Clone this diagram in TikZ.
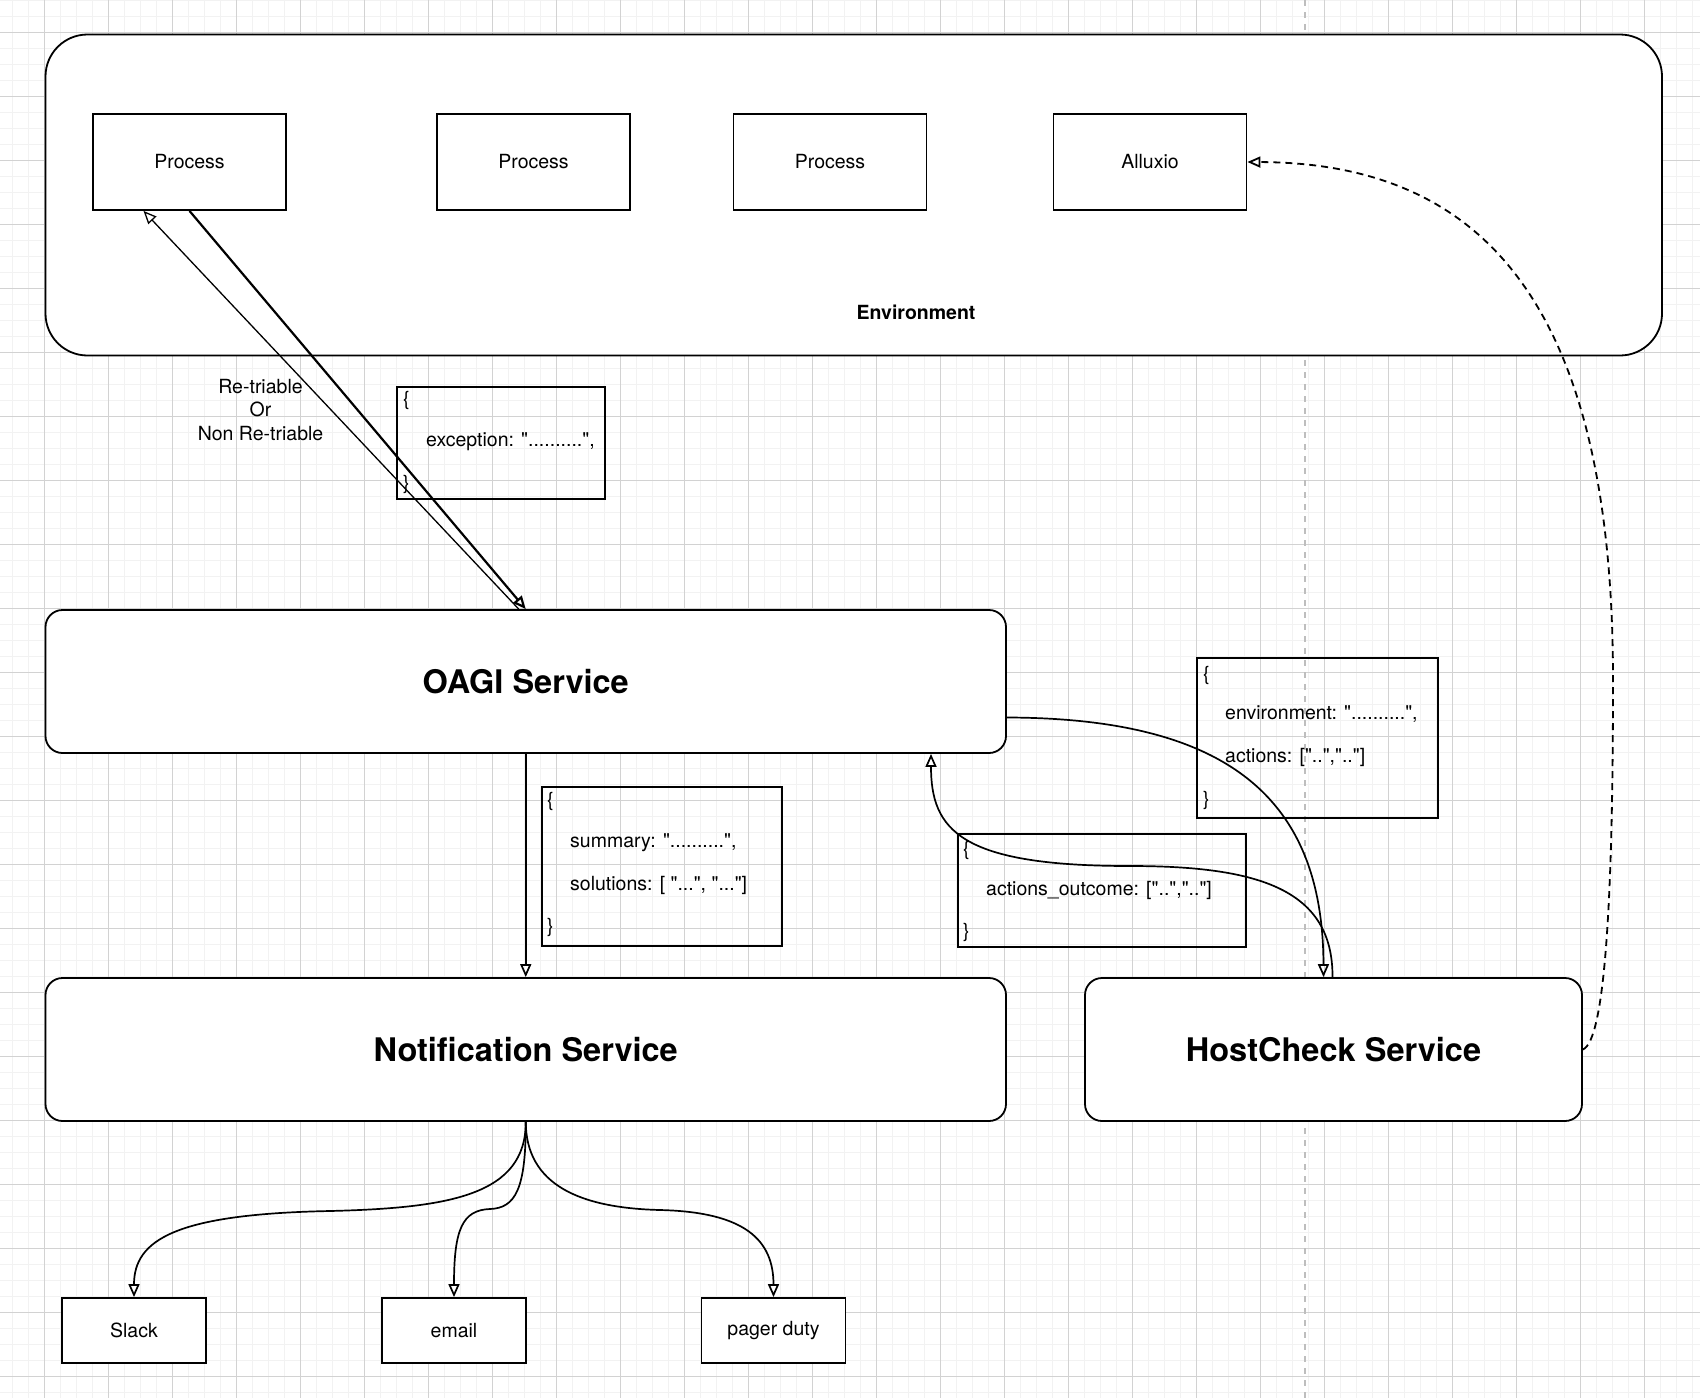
\documentclass[tikz,border=0pt]{standalone}
\usepackage{fontspec}
\setmainfont{TeX Gyre Heros}[Ligatures=TeXOff]
\usetikzlibrary{arrows.meta}

\definecolor{gridminor}{RGB}{242,242,242}
\definecolor{gridmajor}{RGB}{210,210,210}
\definecolor{pagebreak}{RGB}{190,190,190}

\begin{document}
\begin{tikzpicture}[
  x=1pt, y=-1pt,
  txt/.style={font=\fontsize{19.5}{23.5}\selectfont, inner sep=0pt},
  box/.style={draw, fill=white, line width=1.8pt, inner sep=0pt, txt},
  service/.style={box, rounded corners=17pt, minimum height=143pt,
    font=\fontsize{32.5}{38}\selectfont\bfseries},
  json/.style={draw, line width=1.6pt, inner sep=0pt},
  flow/.style={line width=1.7pt, -{Triangle[open, length=13pt, width=11pt]}},
  ping/.style={line width=1.8pt, dash pattern=on 7pt off 5pt,
    -{Triangle[open, length=13pt, width=11pt]}}
]
\useasboundingbox (0,0) rectangle (1700,1398);

% canvas
\foreach \x in {12.3,28.3,...,1700} \draw[gridminor, line width=1pt] (\x,0) -- (\x,1398);
\foreach \y in {0.3,16.3,...,1398} \draw[gridminor, line width=1pt] (0,\y) -- (1700,\y);
\foreach \x in {44.3,108.3,...,1700} \draw[gridmajor, line width=1pt] (\x,0) -- (\x,1398);
\foreach \y in {32.3,96.3,...,1398} \draw[gridmajor, line width=1pt] (0,\y) -- (1700,\y);
\draw[pagebreak, line width=1.2pt, dash pattern=on 6pt off 6pt] (1305,0) -- (1305,1398);

% environment
\node[box, rounded corners=42pt, minimum width=1616.5pt, minimum height=321pt] (env) at (853.75,195) {};
\node[txt, font=\fontsize{19.5}{23.5}\selectfont\bfseries] (envlabel) at (916,312) {Environment};
\foreach \name/\x/\label in {proc1/189.5/Process, proc2/533.5/Process, proc3/830/Process, alluxio/1150/Alluxio}
  \node[box, minimum width=193pt, minimum height=96pt] (\name) at (\x,162) {\label};

% services
\node[service, minimum width=960.5pt] (oagi) at (525.75,681.5) {OAGI Service};
\node[service, minimum width=960.5pt] (notif) at (525.75,1049.5) {Notification Service};
\node[service, minimum width=497pt] (host) at (1333.5,1049.5) {HostCheck Service};

% channels
\node[box, minimum width=144pt, minimum height=65pt] (slack) at (134,1330.5) {Slack};
\node[box, minimum width=144pt, minimum height=65pt] (email) at (454,1330.5) {email};
\node[box, minimum width=144pt, minimum height=65pt] (pager) at (773.5,1330.5) {pager duty};

% payloads
\node[json, minimum width=208pt, minimum height=112pt] (exc) at (501,443) {};
\node[txt, anchor=west] (excopen) at (403,400) {\{};
\node[txt, anchor=west] (excbody) at (426,442) {exception: "..........",};
\node[txt, anchor=west] (excclose) at (403,484) {\}};

\node[json, minimum width=240pt, minimum height=159pt] (summ) at (661.7,866.4) {};
\node[txt, anchor=west] (summopen) at (547,801) {\{};
\node[txt, anchor=west] (summbody) at (570,843) {summary: "..........",};
\node[txt, anchor=west] (summsol) at (570,885) {solutions: [ "...", "..."]};
\node[txt, anchor=west] (summclose) at (547,927) {\}};

\node[json, minimum width=241pt, minimum height=160pt] (envreq) at (1317.5,738) {};
\node[txt, anchor=west] (envreqopen) at (1203,675) {\{};
\node[txt, anchor=west] (envreqbody) at (1225,714) {environment: "..........",};
\node[txt, anchor=west] (envreqact) at (1225,757) {actions: ["..",".."]};
\node[txt, anchor=west] (envreqclose) at (1203,800) {\}};

\node[json, minimum width=288pt, minimum height=113pt] (outcome) at (1102,890.5) {};
\node[txt, anchor=west] (outcomeopen) at (963,850) {\{};
\node[txt, anchor=west] (outcomebody) at (986,890) {actions\_outcome: ["..",".."]};
\node[txt, anchor=west] (outcomeclose) at (963,932) {\}};

\node[txt, align=center] (retry) at (260.5,410) {Re-triable\\Or\\Non Re-triable};

% connectors
\draw[flow, line width=2.2pt] (proc1.south) -- (oagi.north);
\draw[flow, line width=1.3pt] ([xshift=-7pt]oagi.north) -- ([xshift=-46pt]proc1.south);
\draw[flow] (oagi.south) -- (notif.north);
\draw[flow] ([yshift=-36pt]oagi.east) .. controls (1230,718) and (1323,800) .. ([xshift=-10pt]host.north);
\draw[flow] ([xshift=-1pt]host.north) .. controls (1333,890) and (1260,866) .. (1130,866)
  .. controls (960,866) and (931,830) .. ([xshift=405.25pt]oagi.south);
\draw[ping] (host.east) .. controls (1605,1040) and (1613,900) .. (1613,680)
  .. controls (1613,300) and (1480,163) .. (alluxio.east);

\draw[flow] (notif.south) .. controls (526,1195) and (450,1208) .. (330,1211)
  .. controls (175,1214) and (134,1240) .. (slack.north);
\draw[flow] (notif.south) .. controls (526,1190) and (515,1208) .. (490,1209)
  .. controls (462,1210) and (454,1230) .. (email.north);
\draw[flow] (notif.south) .. controls (526,1185) and (580,1208) .. (660,1210)
  .. controls (745,1212) and (773.5,1240) .. (pager.north);
\end{tikzpicture}
\end{document}
